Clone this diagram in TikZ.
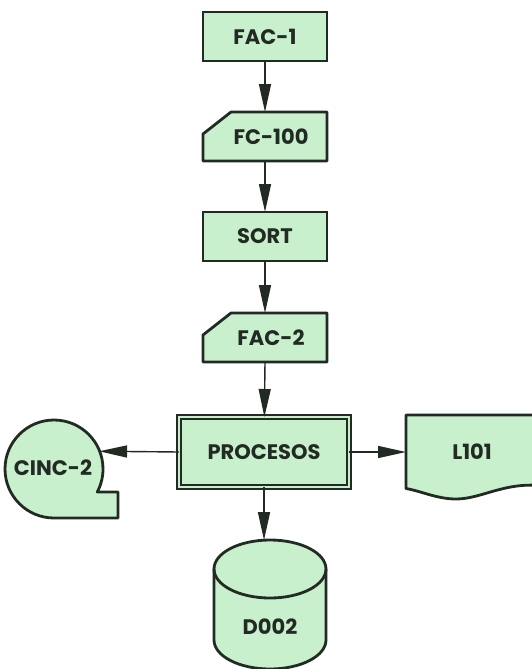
\documentclass[tikz,border=0pt]{standalone}
\usepackage{fontspec}
\newfontfamily\chartfont{Poppins}
\usetikzlibrary{arrows.meta,backgrounds}

\definecolor{boxgreen}{RGB}{201,240,204}
\definecolor{inkline}{RGB}{34,42,36}

\tikzset{
  flowtext/.style={font=\chartfont\bfseries\fontsize{21}{21}\selectfont, text=inkline, inner sep=0pt, outer sep=0pt},
  blockbox/.style={flowtext, draw=inkline, fill=boxgreen, line width=2.8pt, minimum width=124pt, minimum height=49pt},
  cardbox/.style={flowtext, minimum width=112pt, minimum height=49pt},
  shapeline/.style={draw=inkline, fill=boxgreen, line width=2.8pt, line join=round},
  flowarrow/.style={draw=inkline, line width=1.4pt, -{Triangle[length=28pt,width=12pt]}}
}

\begin{document}
\begin{tikzpicture}[x=1pt,y=1pt,yscale=-1]
        \useasboundingbox (0,0) rectangle (532,669);

        % Text Node
        \node[blockbox] (fac1) at (265,36.5) {FAC-1};
        % Text Node
        \node[cardbox] (fc100) at (271,136.5) {FC-100};
        % Text Node
        \node[blockbox] (sort) at (265,236.5) {SORT};
        % Text Node
        \node[cardbox] (fac2) at (271,337.5) {FAC-2};
        % Text Node
        \node[flowtext, draw=inkline, fill=boxgreen, line width=1.8pt, double=boxgreen, double distance=2.4pt, minimum width=170pt, minimum height=70pt] (proc) at (264,452) {PROCESOS};
        % Text Node
        \node[flowtext, circle, minimum size=98pt] (cinc) at (53,468) {CINC-2};
        % Text Node
        \node[flowtext, minimum width=132pt, minimum height=74pt] (l101) at (472,452) {L101};
        % Text Node
        \node[flowtext] (d002) at (270,627) {D002};
        \coordinate (d002top) at (264,540.1);

        \begin{scope}[on background layer]
        %Shape: Card
        \draw[shapeline] (231,112) -- (327,112) -- (327,161) -- (203,161) -- (203,134) -- cycle;
        %Shape: Card
        \draw[shapeline] (231,313) -- (327,313) -- (327,362) -- (203,362) -- (203,335) -- cycle;
        %Shape: Tape
        \draw[shapeline] (54,518) arc[start angle=90, end angle=388, radius=49] -- (118,492) -- (118,518) -- cycle;
        %Shape: Document
        \draw[shapeline] (406,415) -- (545,415) -- (545,486) .. controls (505,481) and (482,499) .. (456,499) .. controls (437,499) and (421,491) .. (406,488.5) -- cycle;
        %Shape: Can
        \draw[shapeline] (214,569) -- (214,640) arc[start angle=180, end angle=0, x radius=56, y radius=29] -- (326,569) arc[start angle=0, end angle=-180, x radius=56, y radius=29] -- cycle;
        \draw[draw=inkline, line width=2.8pt] (214,569) arc[start angle=180, end angle=0, x radius=56, y radius=29];
        \end{scope}

        %Straight Lines
        \draw[flowarrow] (fac1) -- (fac1 |- fc100.north);
        \draw[flowarrow] (fac1 |- fc100.south) -- (sort);
        \draw[flowarrow] (sort) -- (sort |- fac2.north);
        \draw[flowarrow] (sort |- fac2.south) -- (proc);
        \draw[flowarrow] (proc.west) -- (cinc.20);
        \draw[flowarrow] (proc.east) -- (l101.west);
        \draw[flowarrow] (proc.south) -- (d002top);

\end{tikzpicture}
\end{document}
